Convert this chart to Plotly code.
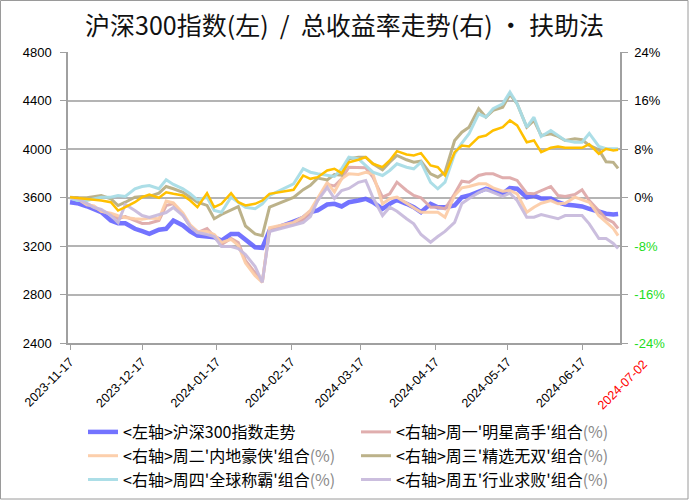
import plotly.graph_objects as go

dates = [
    "2023-11-17", "2023-11-20", "2023-11-24", "2023-11-27", "2023-11-30", "2023-12-04",
    "2023-12-07", "2023-12-10", "2023-12-14", "2023-12-17", "2023-12-20", "2023-12-24",
    "2023-12-27", "2023-12-30", "2024-01-03", "2024-01-06", "2024-01-09", "2024-01-13",
    "2024-01-16", "2024-01-19", "2024-01-23", "2024-01-26", "2024-01-29", "2024-02-02",
    "2024-02-05", "2024-02-08", "2024-02-18", "2024-02-22", "2024-02-25", "2024-02-28",
    "2024-03-03", "2024-03-06", "2024-03-09", "2024-03-12", "2024-03-16", "2024-03-19",
    "2024-03-22", "2024-03-26", "2024-03-29", "2024-04-01", "2024-04-05", "2024-04-08",
    "2024-04-11", "2024-04-15", "2024-04-18", "2024-04-21", "2024-04-25", "2024-04-28",
    "2024-05-01", "2024-05-05", "2024-05-08", "2024-05-11", "2024-05-15", "2024-05-18",
    "2024-05-21", "2024-05-25", "2024-05-28", "2024-05-31", "2024-06-04", "2024-06-07",
    "2024-06-10", "2024-06-14", "2024-06-17", "2024-06-20", "2024-06-24", "2024-06-27",
    "2024-06-30", "2024-07-02",
]

hs300 = [
    3561, 3553, 3528, 3507, 3479, 3410, 3388, 3388, 3342, 3322, 3300, 3334,
    3342, 3410, 3369, 3320, 3287, 3278, 3273, 3245, 3300, 3300, 3251, 3190,
    3185, 3328, 3402, 3433, 3479, 3493, 3542, 3548, 3526, 3561, 3575, 3589,
    3561, 3507, 3548, 3581, 3548, 3520, 3479, 3548, 3520, 3520, 3534, 3602,
    3616, 3644, 3672, 3658, 3631, 3677, 3672, 3602, 3616, 3592, 3592, 3561,
    3542, 3534, 3526, 3507, 3479, 3466, 3460, 3464,
]

mon = [
    0.0, 0.0, -0.99, -1.60, -2.15, -2.81, -3.47, -3.14, -3.80, -4.29, -4.24, -3.80,
    -1.32, -0.99, -2.97, -4.79, -5.78, -5.12, -6.44, -7.76, -6.77, -7.43, -10.4, -12.4,
    -13.9, -5.28, -4.46, -3.63, -2.48, -0.50, 2.15, 1.90, 3.09, 5.00, 5.00, 4.90,
    3.35, 0.05, 0.61, 2.52, 1.16, 0.33, -0.05, -1.60, -1.60, -1.86, 0.61, 2.69,
    2.52, 3.63, 3.91, 3.91, 3.25, 3.25, 2.81, 0.71, 0.61, 1.16, 1.82, 0.33,
    0.17, 0.50, 1.27, -0.50, -2.15, -3.47, -4.13, -5.12,
]

tue = [
    0.0, -0.2, -1.2, -1.4, -2.3, -2.6, -3.0, -3.3, -3.5, -3.6, -3.4, -3.5,
    -0.6, -0.9, -2.6, -4.5, -5.6, -5.6, -6.1, -7.4, -6.9, -7.9, -10.8, -12.9,
    -14.0, -5.0, -4.1, -3.2, -2.1, -0.1, 2.5, 0.9, 3.09, 3.91, 3.80, 4.17,
    3.91, -1.04, -0.21, 0.05, -0.94, -1.60, -2.43, -2.43, -2.43, -3.25, 0.33, 1.60,
    1.82, 2.26, 2.26, 1.60, 1.04, 1.16, 0.61, -2.43, -1.60, -0.94, -0.50, -1.04,
    -0.94, 0.05, -0.38, -0.78, -3.0, -4.1, -5.1, -6.3,
]

wed = [
    0.05, -0.05, -0.05, 0.17, 0.33, -0.21, -1.32, -0.78, 0.05, 0.17, 0.17, 0.71,
    1.82, 1.44, 0.87, 0.05, -0.78, -1.3, -3.5, -2.8, -2.0, -1.5, -4.7, -6.0,
    -6.3, -1.6, 0.0, 1.3, 2.0, 3.2, 2.9, 3.8, 3.7, 6.38, 6.65, 6.65,
    5.56, 4.57, 5.82, 6.93, 6.22, 5.82, 5.99, 3.91, 3.35, 4.17, 9.41, 10.77,
    11.60, 14.64, 13.25, 14.36, 14.90, 17.0, 15.46, 11.60, 12.71, 10.23, 10.51, 10.07,
    9.41, 9.69, 9.52, 8.58, 7.87, 5.9, 5.8, 4.8,
]

thu = [
    -0.05, -0.50, -0.50, -0.21, 0.05, 0.05, 0.33, 0.17, 1.44, 1.82, 1.98, 1.44,
    2.92, 2.15, 1.44, 0.61, -0.38, 0.05, -2.15, -2.43, 0.05, -0.78, -1.60, -1.86,
    -1.04, 0.33, 2.26, 4.74, 4.17, 3.91, 3.63, 3.47, 4.74, 6.65, 6.38, 5.28,
    4.17, 3.63, 4.46, 5.56, 5.00, 4.74, 5.82, 2.5, 1.44, 2.52, 7.21, 8.96,
    10.51, 13.81, 13.25, 14.64, 15.46, 17.37, 15.46, 11.60, 13.25, 10.07, 11.06, 10.23,
    9.41, 9.12, 9.12, 10.56, 8.42, 8.04, 8.04, 8.04,
]

fri = [
    -0.05, -0.21, -0.99, -1.65, -1.98, -2.97, -4.13, -1.16, -2.15, -2.97, -3.30, -2.81,
    -2.48, -1.65, -2.97, -4.79, -5.78, -6.11, -6.44, -8.09, -8.09, -8.42, -9.41, -11.39,
    -13.98, -5.61, -4.62, -4.13, -3.14, -0.50, 1.65, -0.17, 1.16, 1.5, 2.5, 2.8,
    0.0, -2.97, -1.60, -2.26, -3.51, -4.34, -6.11, -7.38, -6.44, -5.6, -4.1, -1.0,
    -0.17, 0.8, 1.32, 0.87, 0.17, 0.71, -0.50, -3.25, -3.25, -2.81, -3.25, -3.51,
    -2.97, -2.97, -2.97, -4.34, -6.77, -6.77, -7.59, -8.42,
]

avg_line = [
    0.05, -0.05, -0.21, -0.38, -0.50, -0.78, -2.15, -1.60, -0.78, 0.05, 0.50, -0.05,
    0.87, 0.61, 0.33, -0.50, -1.60, 0.71, -1.60, -1.04, 0.71, -0.78, -1.32, -1.04,
    -0.50, 0.61, 1.27, 3.63, 3.08, 3.35, 4.46, 4.74, 4.01, 5.82, 6.22, 6.65,
    5.56, 5.00, 6.11, 7.64, 7.10, 6.93, 7.31, 5.28, 5.00, 3.63, 7.47, 8.58,
    8.42, 9.95, 10.23, 11.06, 11.60, 12.71, 11.88, 9.12, 9.41, 7.47, 8.20, 8.42,
    8.20, 8.20, 8.20, 8.80, 7.21, 8.04, 7.76, 7.87,
]

x_tick_vals = ["2023-11-17", "2023-12-17", "2024-01-17", "2024-02-17", "2024-03-17",
               "2024-04-17", "2024-05-17", "2024-06-17"]
left_ticks = [2400, 2800, 3200, 3600, 4000, 4400, 4800]
right_ticks = [-24, -16, -8, 0, 8, 16, 24]
last_label = "2024-07-02"

pct = "<span style='color:#8a8a8a'>(%)</span>"
series = [
    ("&lt;右轴&gt;周一'明星高手'组合" + pct, mon, "rgba(222,170,170,0.95)"),
    ("&lt;右轴&gt;周二'内地豪侠'组合" + pct, tue, "rgba(252,204,168,0.95)"),
    ("&lt;右轴&gt;周三'精选无双'组合" + pct, wed, "rgba(184,174,132,0.95)"),
    ("&lt;右轴&gt;周四'全球称霸'组合" + pct, thu, "rgba(168,220,230,0.95)"),
    ("&lt;右轴&gt;周五'行业求败'组合" + pct, fri, "rgba(200,186,220,0.95)"),
]

FONT = "Noto Sans CJK SC"
fig = go.Figure()
fig.add_trace(go.Scatter(x=dates, y=hs300, mode="lines", name="&lt;左轴&gt;沪深300指数走势",
                         line=dict(color="rgba(100,100,255,0.9)", width=4.5), yaxis="y"))
for name, vals, col in series:
    fig.add_trace(go.Scatter(x=dates, y=vals, mode="lines", name=name,
                             line=dict(color=col, width=3), yaxis="y2"))
fig.add_trace(go.Scatter(x=dates, y=avg_line, mode="lines", showlegend=False,
                         line=dict(color="#FFC000", width=2.5), yaxis="y2"))

W, H = 689, 500
ml, mr, mt, mb = 68, 69, 52, 157
pw, ph = W - ml - mr, H - mt - mb

right_text = []
for v in right_ticks:
    if v < 0:
        right_text.append(f"<span style='color:#22dd22'>{v}%</span>")
    else:
        right_text.append(f"{v}%")

fig.update_layout(
    width=W, height=H,
    margin=dict(l=ml, r=mr, t=mt, b=mb, autoexpand=False),
    paper_bgcolor="white", plot_bgcolor="white",
    font=dict(family=FONT, color="black"),
    title=dict(text="沪深300指数(左)  /  总收益率走势(右) · 扶助法", x=0.5, xanchor="center",
               y=1 - 26 / H, yanchor="middle", font=dict(size=25, family=FONT, color="#111")),
    xaxis=dict(type="date", range=["2023-11-16 04:00", "2024-07-02 19:00"],
               tickvals=x_tick_vals, ticktext=x_tick_vals, tickangle=-45,
               ticks="outside", ticklen=5, tickcolor="#a0a0a0",
               showgrid=False, showline=True, linecolor="#a0a0a0", linewidth=1.5,
               tickfont=dict(size=12.5, family="Liberation Sans", color="black")),
    yaxis=dict(range=[2400, 4800], tickvals=left_ticks, ticks="outside", ticklen=6,
               tickcolor="#a0a0a0", showline=True, linecolor="#a0a0a0", linewidth=1.5,
               showgrid=True, gridcolor="#b4b4b4", gridwidth=1.5, zeroline=False,
               ticklabelstandoff=6,
               tickfont=dict(size=13, family="Liberation Sans", color="black")),
    yaxis2=dict(range=[-24, 24], tickvals=right_ticks, ticktext=right_text,
                overlaying="y", side="right", ticks="outside", ticklen=6,
                tickcolor="#a0a0a0", showline=True, linecolor="#a0a0a0", linewidth=1.5,
                showgrid=False, zeroline=False, ticklabelstandoff=4,
                tickfont=dict(size=13, family="Liberation Sans", color="black")),
    legend=dict(orientation="h", x=(83 - ml) / pw, xanchor="left",
                y=(mt + ph - 415) / ph, yanchor="top",
                font=dict(size=16, family=FONT, color="black"),
                itemwidth=30, entrywidth=228, entrywidthmode="pixels",
                bgcolor="rgba(0,0,0,0)"),
    showlegend=True,
)

fig.add_annotation(x=last_label, xref="x", y=0, yref="paper", text=last_label,
                   showarrow=False, textangle=-45, xanchor="right", yanchor="top",
                   xshift=35, yshift=-12,
                   font=dict(size=12.5, family="Liberation Sans", color="red"))

fig.add_shape(type="rect", xref="paper", yref="paper",
              x0=-ml / pw + 0.5 / pw, x1=1 + (mr - 1) / pw,
              y0=-(mb - 1) / ph, y1=1 + (mt - 0.5) / ph,
              line=dict(color="#9a9a9a", width=1), layer="below")

fig.write_html("out.html", config={"displayModeBar": False},
               post_script="document.body.style.margin='0';document.body.style.padding='0';")
